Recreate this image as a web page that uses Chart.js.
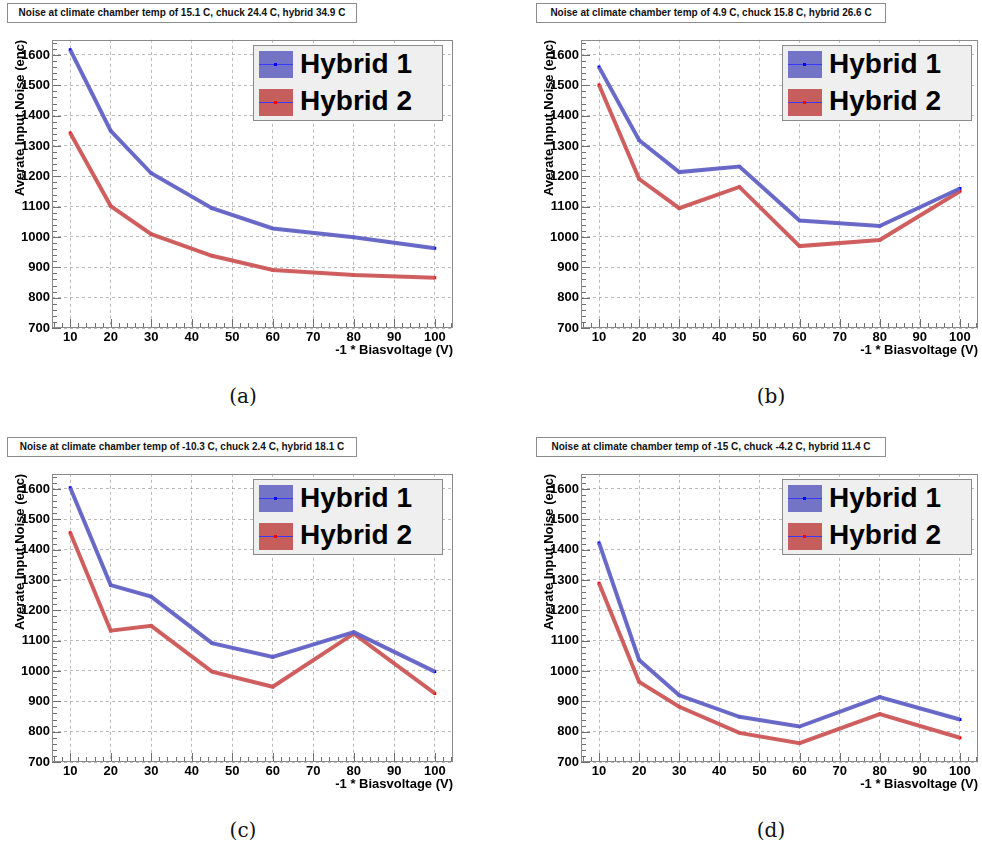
<!DOCTYPE html>
<html>
<head>
<meta charset="utf-8">
<script src="https://cdn.jsdelivr.net/npm/chart.js@4.4.0/dist/chart.umd.min.js"></script>
<style>
html,body{margin:0;padding:0;background:#fff;}
#wrap{position:relative;width:982px;height:848px;overflow:hidden;font-family:"Liberation Sans",Arial,sans-serif;}
canvas.cv{position:absolute;}
.tbox{position:absolute;width:348px;height:18px;border:1px solid #8c8c8c;background:#fff;font:bold 10px "Liberation Sans",Arial,sans-serif;text-align:center;line-height:18px;color:#111;white-space:nowrap;}
.leg{position:absolute;width:188px;height:74px;border:1px solid #8a8a8a;background:#efefef;}
.sw{position:absolute;left:5px;width:34px;height:27px;}
.sw i{position:absolute;left:0;right:0;top:13px;height:1px;background:#3a3aff;}
.sw b{position:absolute;left:15px;top:12px;width:3px;height:3px;}
.lt{position:absolute;left:46px;font:bold 28px "Liberation Sans",Arial,sans-serif;color:#000;line-height:28px;white-space:nowrap;}
.cap{position:absolute;width:100px;text-align:center;font:20px "DejaVu Serif",serif;color:#111;line-height:24px;}
</style>
</head>
<body>
<div id="wrap"></div>
<script>
// ---- data ----
const voltages = [10, 20, 30, 45, 60, 80, 100];
const hybrid1_a = [1617, 1350, 1210, 1095, 1028, 999, 963];
const hybrid2_a = [1343, 1102, 1009, 938, 891, 875, 866];
const hybrid1_b = [1560, 1319, 1214, 1232, 1054, 1036, 1160];
const hybrid2_b = [1501, 1191, 1095, 1165, 970, 990, 1151];
const hybrid1_c = [1604, 1283, 1245, 1092, 1046, 1128, 998];
const hybrid2_c = [1456, 1133, 1149, 998, 948, 1123, 926];
const hybrid1_d = [1422, 1036, 920, 849, 817, 914, 840];
const hybrid2_d = [1289, 964, 882, 796, 762, 858, 780];
const panelTitles = [
  "Noise at climate chamber temp of 15.1 C, chuck 24.4 C, hybrid 34.9 C",
  "Noise at climate chamber temp of 4.9 C, chuck 15.8 C, hybrid 26.6 C",
  "Noise at climate chamber temp of -10.3 C, chuck 2.4 C, hybrid 18.1 C",
  "Noise at climate chamber temp of -15 C, chuck -4.2 C, hybrid 11.4 C"
];
const captions = ["(a)", "(b)", "(c)", "(d)"];
const seriesNames = ["Hybrid 1", "Hybrid 2"];
const xTitle = "-1 * Biasvoltage (V)";
const yTitle = "Averate Input Noise (enc)";
const xRange = [5.5, 104.5];
const yRange = [700, 1650];

// ---- layout ----
const wrap = document.getElementById('wrap');
const panels = [
  {h1: hybrid1_a, h2: hybrid2_a, left: 0,   top: 30,  padL: 0,  padR: 38, fx: 52,  fy: 38,  tx: 7,   ty: 3,   cx: 243, cy: 384},
  {h1: hybrid1_b, h2: hybrid2_b, left: 491, top: 30,  padL: 38, padR: 2,  fx: 581, fy: 38,  tx: 536, ty: 3,   cx: 771, cy: 384},
  {h1: hybrid1_c, h2: hybrid2_c, left: 0,   top: 464, padL: 0,  padR: 38, fx: 52,  fy: 472, tx: 7,   ty: 437, cx: 243, cy: 818},
  {h1: hybrid1_d, h2: hybrid2_d, left: 491, top: 464, padL: 38, padR: 2,  fx: 581, fy: 472, tx: 536, ty: 437, cx: 771, cy: 818}
];

const frameTicks = {
  id: 'frameTicks',
  beforeDatasetsDraw(chart) {
    const {ctx, chartArea: a, scales: {x, y}} = chart;
    ctx.save();
    ctx.strokeStyle = '#707070';
    ctx.lineWidth = 1;
    ctx.beginPath();
    for (let v = 6; v <= 104; v += 2) {
      const px = Math.round(x.getPixelForValue(v)) + 0.5;
      const len = (v % 10 === 0) ? 9 : 5;
      ctx.moveTo(px, a.bottom);
      ctx.lineTo(px, a.bottom - len);
    }
    for (let v = 700; v <= 1640; v += 20) {
      const py = Math.round(y.getPixelForValue(v)) + 0.5;
      const len = (v % 100 === 0) ? 9 : 5;
      ctx.moveTo(a.left, py);
      ctx.lineTo(a.left + len, py);
    }
    ctx.stroke();
    ctx.strokeStyle = '#8a8a8a';
    ctx.strokeRect(Math.round(a.left) + 0.5, Math.round(a.top) + 0.5,
                   Math.round(a.right - a.left) - 1, Math.round(a.bottom - a.top) - 1);
    ctx.restore();
  }
};

const tickFont = {family: '"Liberation Sans", Arial, sans-serif', size: 13, weight: 'bold'};
const plain = v => String(v);

panels.forEach((p, i) => {
  const cv = document.createElement('canvas');
  cv.className = 'cv';
  cv.width = 491; cv.height = 340;
  cv.style.left = p.left + 'px'; cv.style.top = p.top + 'px';
  wrap.appendChild(cv);

  const pts = arr => voltages.map((v, k) => ({x: v, y: arr[k]}));
  const band = (arr, col) => ({data: pts(arr), borderColor: col, borderWidth: 4, pointRadius: 0, tension: 0, fill: false});
  const thin = (arr, col, pcol) => ({data: pts(arr), borderColor: col, borderWidth: 1, pointRadius: 2.1, pointStyle: 'rect',
      pointBackgroundColor: pcol, pointBorderWidth: 0, tension: 0, fill: false});

  new Chart(cv.getContext('2d'), {
    type: 'line',
    data: {
      datasets: [
        Object.assign(band(p.h1, 'rgba(100,100,198,0.95)'), {label: seriesNames[0]}),
        Object.assign(thin(p.h1, 'rgba(60,60,215,0.8)', '#0000ff'), {label: seriesNames[0]}),
        Object.assign(band(p.h2, 'rgba(206,88,88,0.95)'), {label: seriesNames[1]}),
        Object.assign(thin(p.h2, 'rgba(150,50,120,0.6)', '#ff0000'), {label: seriesNames[1]})
      ]
    },
    options: {
      responsive: false, animation: false, devicePixelRatio: 1,
      layout: {padding: {top: 8, left: p.padL, right: p.padR, bottom: 0}},
      plugins: {legend: {display: false}, tooltip: {enabled: false}, title: {display: false}},
      scales: {
        x: {
          type: 'linear', min: xRange[0], max: xRange[1],
          ticks: {stepSize: 10, includeBounds: false, autoSkip: false, maxRotation: 0, padding: 2, font: tickFont, color: '#000', callback: plain},
          grid: {color: 'rgba(130,130,130,0.55)', lineWidth: 1, drawTicks: false},
          border: {display: false, dash: [3, 3]},
          title: {display: true, text: xTitle, align: 'end', color: '#000', font: tickFont, padding: {top: 0, bottom: 12}},
          afterFit: s => { s.height = 42; }
        },
        y: {
          type: 'linear', min: yRange[0], max: yRange[1],
          ticks: {stepSize: 100, includeBounds: false, autoSkip: false, padding: 2, font: tickFont, color: '#000', callback: plain},
          grid: {color: 'rgba(130,130,130,0.55)', lineWidth: 1, drawTicks: false},
          border: {display: false, dash: [3, 3]},
          title: {display: true, text: yTitle, align: 'end', color: '#000', font: tickFont, padding: {top: 13, bottom: 0}},
          afterFit: s => { s.width = 52; }
        }
      }
    },
    plugins: [frameTicks]
  });

  // title box
  const tb = document.createElement('div');
  tb.className = 'tbox';
  tb.style.left = p.tx + 'px'; tb.style.top = p.ty + 'px';
  tb.textContent = panelTitles[i];
  wrap.appendChild(tb);

  // legend
  const lg = document.createElement('div');
  lg.className = 'leg';
  lg.style.left = (p.fx + 201) + 'px'; lg.style.top = (p.fy + 7) + 'px';
  lg.innerHTML =
    '<div class="sw" style="top:5px;background:#7474c6"><i></i><b style="background:#0000ff"></b></div>' +
    '<div class="lt" style="top:4px">' + seriesNames[0] + '</div>' +
    '<div class="sw" style="top:43px;background:#c65e5e"><i></i><b style="background:#ff0000"></b></div>' +
    '<div class="lt" style="top:41px">' + seriesNames[1] + '</div>';
  wrap.appendChild(lg);

  // caption
  const cp = document.createElement('div');
  cp.className = 'cap';
  cp.style.left = (p.cx - 50) + 'px'; cp.style.top = p.cy + 'px';
  cp.textContent = captions[i];
  wrap.appendChild(cp);
});
</script>
</body>
</html>
